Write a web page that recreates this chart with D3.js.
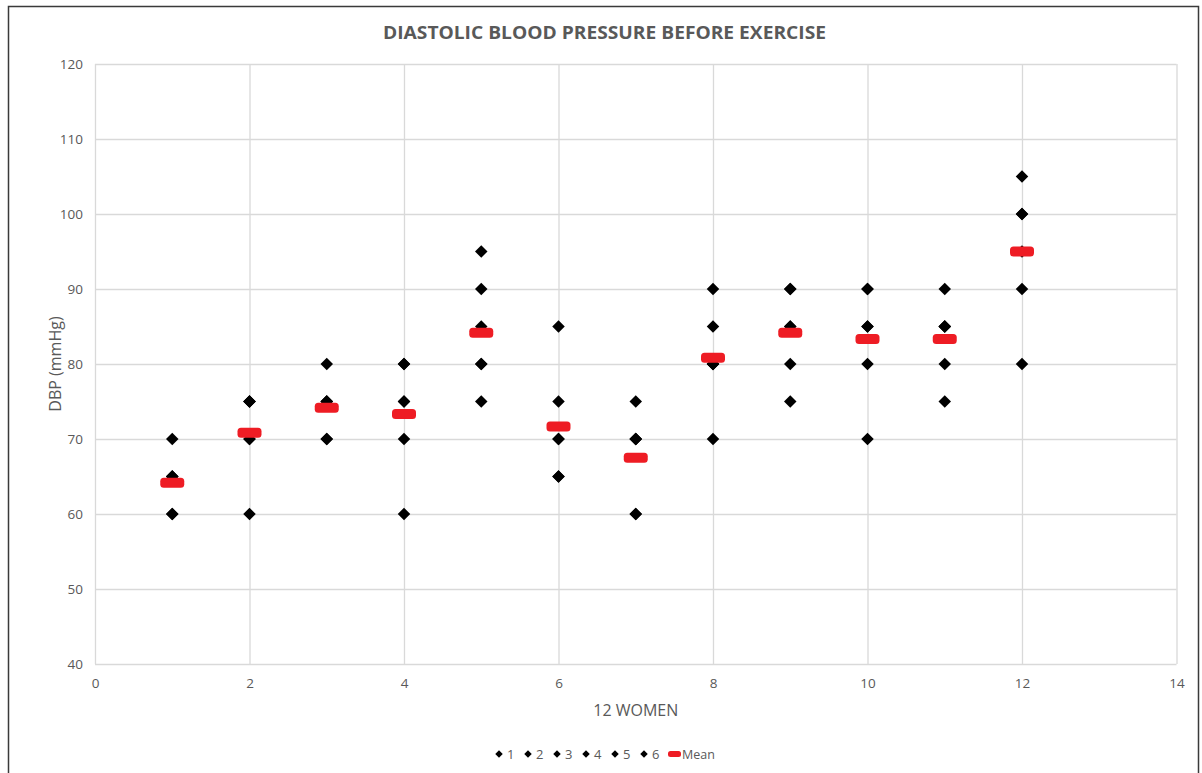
<!DOCTYPE html>
<html>
<head>
<meta charset="utf-8">
<script src="https://cdn.jsdelivr.net/npm/d3@7"></script>
<style>
  html, body { margin: 0; padding: 0; background: #fff; }
  svg { display: block; }
  text { font-family: "Open Sans", "Noto Sans", "DejaVu Sans", sans-serif; }
</style>
</head>
<body>
<svg id="chart" width="1202" height="773"></svg>
<script>
// Six diastolic readings (mmHg) for each of the 12 women
const women = [1, 2, 3, 4, 5, 6, 7, 8, 9, 10, 11, 12];
const reading1 = [60, 75, 80, 80, 95, 85, 75, 90, 90, 90, 90, 105];
const reading2 = [65, 70, 75, 75, 90, 75, 70, 85, 85, 85, 85, 100];
const reading3 = [70, 60, 70, 70, 85, 70, 60, 80, 80, 80, 80, 95];
const reading4 = [65, 75, 75, 60, 80, 65, 70, 70, 75, 70, 75, 90];
const reading5 = [60, 75, 75, 80, 75, 70, 70, 80, 90, 90, 85, 80];
const reading6 = [65, 70, 70, 75, 80, 65, 60, 80, 85, 85, 85, 100];
const seriesNames = ["1", "2", "3", "4", "5", "6"];
const xTicks = [0, 2, 4, 6, 8, 10, 12, 14];
const yTicks = [40, 50, 60, 70, 80, 90, 100, 110, 120];

const readings = [reading1, reading2, reading3, reading4, reading5, reading6];
const means = women.map((w, i) => d3.mean(readings, r => r[i]));

const svg = d3.select("#chart");
const W = 1202, H = 773;
const plot = { left: 95, right: 1176.5, top: 64, bottom: 664 };
const textColor = "#595959";
const gridColor = "#d9d9d9";

// outer frame (open at the bottom)
svg.append("path")
  .attr("d", `M8.5,${H} V6.5 H1198.5 V${H}`)
  .attr("fill", "none").attr("stroke", "#3a3a3a").attr("stroke-width", 1.5);

const x = d3.scaleLinear().domain([0, 14]).range([plot.left, plot.right]);
const y = d3.scaleLinear().domain([40, 120]).range([plot.bottom, plot.top]);

// gridlines
const gx = svg.append("g")
  .attr("transform", `translate(0,${plot.bottom})`)
  .call(d3.axisBottom(x).tickValues(xTicks).tickSize(-(plot.bottom - plot.top)).tickPadding(14));
gx.select(".domain").remove();
gx.selectAll(".tick line").attr("stroke", gridColor).attr("stroke-width", 1.3);
gx.selectAll(".tick text").attr("fill", textColor).attr("font-size", 13.5);

const gy = svg.append("g")
  .attr("transform", `translate(${plot.left},0)`)
  .call(d3.axisLeft(y).tickValues(yTicks).tickSize(-(plot.right - plot.left)).tickPadding(12));
gy.select(".domain").remove();
gy.selectAll(".tick line").attr("stroke", gridColor).attr("stroke-width", 1.3);
gy.selectAll(".tick text").attr("fill", textColor).attr("font-size", 13.5);

// readings as black diamonds
const diamond = d3.symbol().type(d3.symbolDiamond2).size(100);
const pts = [];
readings.forEach((r, s) => r.forEach((v, i) => pts.push({ x: women[i], y: v, s })));
svg.append("g").selectAll("path")
  .data(pts).join("path")
  .attr("d", diamond)
  .attr("transform", d => `translate(${x(d.x)},${y(d.y)})`)
  .attr("fill", "#000");

// means as red bars
const mw = 24, mh = 10;
svg.append("g").selectAll("rect")
  .data(means).join("rect")
  .attr("x", (d, i) => x(women[i]) - mw / 2)
  .attr("y", d => y(d) - mh / 2)
  .attr("width", mw).attr("height", mh)
  .attr("rx", 3.5)
  .attr("fill", "#ee1c24");

// title
svg.append("text")
  .attr("x", 604.5).attr("y", 39)
  .attr("text-anchor", "middle")
  .attr("font-size", 18).attr("font-weight", "bold")
  .attr("fill", textColor)
  .attr("textLength", 443).attr("lengthAdjust", "spacingAndGlyphs")
  .text("DIASTOLIC BLOOD PRESSURE BEFORE EXERCISE");

// axis titles
svg.append("text")
  .attr("x", (plot.left + plot.right) / 2).attr("y", 716)
  .attr("text-anchor", "middle").attr("font-size", 16)
  .attr("fill", textColor)
  .text("12 WOMEN");

svg.append("text")
  .attr("transform", `translate(61,${(plot.top + plot.bottom) / 2}) rotate(-90)`)
  .attr("text-anchor", "middle").attr("font-size", 16)
  .attr("fill", textColor)
  .text("DBP (mmHg)");

// legend
const legend = svg.append("g").attr("transform", "translate(0,754)");
const small = d3.symbol().type(d3.symbolDiamond2).size(36);
const legendX = [499, 528, 557, 586, 615, 644];
seriesNames.forEach((name, i) => {
  legend.append("path").attr("d", small)
    .attr("transform", `translate(${legendX[i]},0)`).attr("fill", "#000");
  legend.append("text").attr("x", legendX[i] + 8).attr("y", 5)
    .attr("font-size", 13).attr("fill", textColor).text(name);
});
legend.append("rect").attr("x", 668).attr("y", -3).attr("width", 13).attr("height", 6)
  .attr("rx", 2.5).attr("fill", "#ee1c24");
legend.append("text").attr("x", 682).attr("y", 5)
  .attr("font-size", 12.5).attr("fill", textColor).text("Mean");
</script>
</body>
</html>
